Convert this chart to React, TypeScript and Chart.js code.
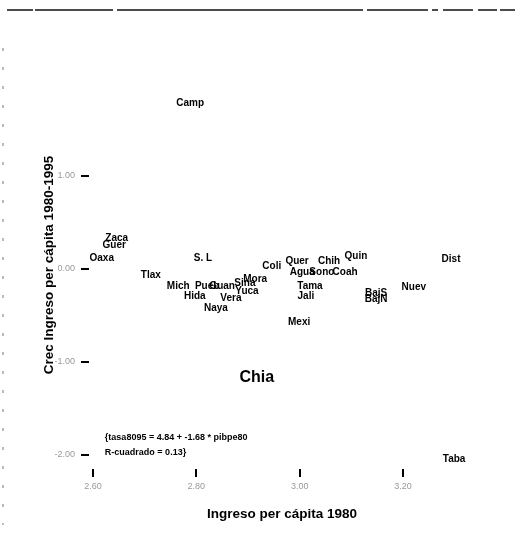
import React, { useEffect, useRef } from "react";
import { Chart, registerables } from "chart.js";

Chart.register(...registerables);

// Mexican states: label, income per capita 1980 (x), growth 1980-1995 (y)
const stateLabels = [
  "Camp", "Zaca", "Guer", "Oaxa", "S. L", "Tlax", "Mich", "Pueb", "Guan", "Sina",
  "Mora", "Yuca", "Hida", "Vera", "Naya", "Coli", "Quer", "Chih", "Quin", "Agua",
  "Sono", "Coah", "Tama", "Jali", "Mexi", "BajS", "BajN", "Nuev", "Dist", "Taba", "Chia",
];
const income1980 = [
  2.788, 2.646, 2.641, 2.617, 2.813, 2.712, 2.765, 2.821, 2.850, 2.894,
  2.914, 2.898, 2.797, 2.867, 2.838, 2.946, 2.995, 3.057, 3.109, 3.005,
  3.043, 3.088, 3.020, 3.012, 2.999, 3.148, 3.148, 3.221, 3.293, 3.299, 2.917,
];
const growth8095 = [
  1.785, 0.333, 0.258, 0.118, 0.118, -0.065, -0.183, -0.183, -0.183, -0.151,
  -0.108, -0.237, -0.290, -0.312, -0.419, 0.032, 0.086, 0.086, 0.140, -0.032,
  -0.032, -0.032, -0.183, -0.290, -0.570, -0.258, -0.323, -0.194, 0.108, -2.043, -1.172,
];
const largeLabel = "Chia";

const xTicks = [2.6, 2.8, 3.0, 3.2];
const xTickLabels = ["2.60", "2.80", "3.00", "3.20"];
const yTicks = [1, 0, -1, -2];
const yTickLabels = ["1.00", "0.00", "-1.00", "-2.00"];

const regressionLines = ["{tasa8095 = 4.84 + -1.68 * pibpe80", "R-cuadrado = 0.13}"];
const regressionAnchor = { x: 2.623, y: [-1.817, -1.978] };

const FONT = "'Liberation Sans', Arial, sans-serif";

const labelPlugin = {
  id: "stateLabels",
  afterDatasetsDraw(chart: any) {
    const ctx = chart.ctx;
    const meta = chart.getDatasetMeta(0);
    ctx.save();
    ctx.fillStyle = "#000";
    ctx.textAlign = "center";
    ctx.textBaseline = "middle";
    meta.data.forEach((el: any, i: number) => {
      const lab = stateLabels[i];
      ctx.font = lab === largeLabel ? `bold 16px ${FONT}` : `bold 10px ${FONT}`;
      ctx.fillText(lab, el.x, el.y);
    });
    // regression annotation
    const xs = chart.scales.x;
    const ys = chart.scales.y;
    ctx.textAlign = "left";
    ctx.font = `bold 9px ${FONT}`;
    regressionLines.forEach((t, i) => {
      ctx.fillText(t, xs.getPixelForValue(regressionAnchor.x), ys.getPixelForValue(regressionAnchor.y[i]));
    });
    ctx.restore();
  },
  beforeDraw(chart: any) {
    const ctx = chart.ctx;
    ctx.save();
    ctx.fillStyle = "#fff";
    ctx.fillRect(0, 0, chart.width, chart.height);
    // scan border artifacts: top rule and left dotted edge
    ctx.strokeStyle = "#111";
    ctx.lineWidth = 1.5;
    const segs = [[7, 33], [35, 113], [117, 363], [367, 428], [432, 438], [443, 473], [478, 497], [500, 515]];
    segs.forEach(([a, b]) => {
      ctx.beginPath();
      ctx.moveTo(a, 10);
      ctx.lineTo(b, 10);
      ctx.stroke();
    });
    ctx.strokeStyle = "#777";
    ctx.lineWidth = 1;
    ctx.setLineDash([3, 16]);
    ctx.beginPath();
    ctx.moveTo(3, 48);
    ctx.lineTo(3, 525);
    ctx.stroke();
    ctx.restore();
  },
};

export default function App() {
  const ref = useRef<HTMLCanvasElement | null>(null);
  useEffect(() => {
    document.body.style.margin = "0";
    if (!ref.current) return;
    const chart = new Chart(ref.current, {
      type: "scatter",
      data: {
        datasets: [
          {
            data: income1980.map((x, i) => ({ x, y: growth8095[i] })),
            pointRadius: 0,
            pointHoverRadius: 0,
            backgroundColor: "#000",
          },
        ],
      },
      options: {
        animation: false,
        responsive: true,
        maintainAspectRatio: false,
        events: [],
        layout: { padding: { top: 61, right: 55, left: 0, bottom: 0 } },
        plugins: { legend: { display: false }, tooltip: { enabled: false } },
        scales: {
          x: {
            type: "linear",
            min: 2.5923,
            max: 3.3394,
            afterFit: (s: any) => { s.height = 68; },
            afterBuildTicks: (s: any) => { s.ticks = xTicks.map((v) => ({ value: v })); },
            border: { display: false },
            grid: { drawOnChartArea: false, drawTicks: true, tickLength: 8, color: "#000", lineWidth: 2 },
            ticks: {
              padding: 4,
              maxRotation: 0,
              color: "#999",
              font: { size: 9, family: FONT },
              callback: (v: any) => { const i = xTicks.indexOf(Number(v)); return i >= 0 ? xTickLabels[i] : ""; },
            },
            title: {
              display: true,
              text: "Ingreso per cápita 1980",
              color: "#000",
              font: { size: 13.5, weight: "bold", family: FONT },
              padding: { top: 0, bottom: 15 },
            },
          },
          y: {
            type: "linear",
            min: -2.1505,
            max: 2.2366,
            afterFit: (s: any) => { s.width = 89; },
            afterBuildTicks: (s: any) => { s.ticks = yTicks.map((v) => ({ value: v })); },
            border: { display: false },
            grid: { drawOnChartArea: false, drawTicks: true, tickLength: 8, color: "#000", lineWidth: 2 },
            ticks: {
              padding: 6,
              color: "#999",
              font: { size: 9, family: FONT },
              callback: (v: any) => { const i = yTicks.indexOf(Number(v)); return i >= 0 ? yTickLabels[i] : ""; },
            },
            title: {
              display: true,
              text: "Crec Ingreso per cápita 1980-1995",
              color: "#000",
              font: { size: 13.5, weight: "bold", family: FONT },
              padding: { top: 41, bottom: 0 },
            },
          },
        },
      },
      plugins: [labelPlugin],
    });
    return () => chart.destroy();
  }, []);
  return (
    <div style={{ width: 530, height: 537, position: "relative" }}>
      <canvas ref={ref} />
    </div>
  );
}
